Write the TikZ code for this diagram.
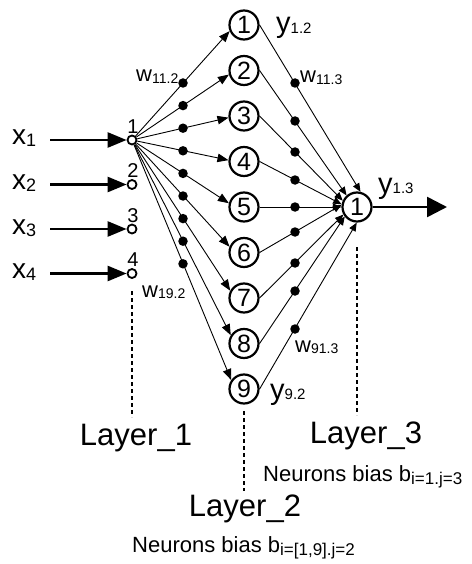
\documentclass[tikz,border=0pt]{standalone}
\usepackage{fontspec}
\setmainfont{Liberation Sans}
\usetikzlibrary{arrows.meta,calc}
\newcommand{\sublab}[5]{{\fontsize{#1}{#1}\selectfont #3}{\fontsize{#2}{#2}\selectfont\raisebox{-#5pt}{#4}}}
\begin{document}
\begin{tikzpicture}[x=1pt,y=-1pt,
  neuron/.style={circle,draw,line width=2.2pt,minimum size=29pt,inner sep=0pt,fill=white,font=\fontsize{25}{25}\selectfont},
  inp/.style={circle,draw,line width=1.8pt,minimum size=9pt,inner sep=0pt,fill=white},
  wdot/.style={circle,fill,inner sep=0pt,minimum size=9.5pt},
  conn/.style={line width=0.9pt,-{Triangle[length=11pt,width=8.5pt]}},
  conn2/.style={line width=0.9pt,-{Triangle[length=8.5pt,width=7pt]}},
  bigarrow/.style={line width=2.6pt,-{Triangle[length=19pt,width=15pt]}},
  outarrow/.style={line width=2.6pt,-{Triangle[length=20pt,width=20pt]}},
  layerline/.style={line width=2.4pt,dash pattern=on 4pt off 3pt},
  txt/.style={inner sep=0pt,anchor=base west},
  laytxt/.style={inner sep=0pt,anchor=base,font=\fontsize{31}{31}\selectfont},
  numlab/.style={inner sep=0pt,anchor=south,font=\fontsize{20}{20}\selectfont}
]
\useasboundingbox (0,0) rectangle (471,564);

% layer 2 neurons
\foreach \k in {1,...,9} {
  \node[neuron] (n\k) at (244,{25+45.5*(\k-1)}) {\k};
}
% output neuron
\node[neuron] (out) at (357,207) {1};

% inputs
\foreach \k/\y in {1/140,2/184.5,3/229,4/273.5} {
  \node[inp] (in\k) at (132,\y) {};
  \node[numlab] (lab\k) at ([yshift=1pt,xshift=1pt]in\k.north) {\k};
  \coordinate (s\k) at (50,\y);
  \draw[bigarrow] (s\k) -- (in\k);
  \node[txt] (xl\k) at (12,{\y+5}) {\sublab{28}{18}{x}{\k}{2}};
}

% layer 1 -> layer 2 (line from input 1 through weight dot to neuron)
\foreach \k/\a in {1/203.2,2/195.6,3/186.5,4/175.7,5/166.2,6/158.4,7/152.8,8/148.8,9/145.4} {
  \draw[conn] (in1) -- (n\k.\a);
  \node[wdot] (d\k) at (183,{83+22.6*(\k-1)}) {};
}

% layer 2 -> layer 3
\foreach \k/\a/\ye in {1/77.7/83,2/132/121,3/156.8/152,4/170.7/180,5/180/207,6/172.8/232,7/209.6/263,8/218.2/291,9/269.3/329} {
  \draw[conn2] (n\k.east) -- (out.\a);
  \node[wdot] (e\k) at (295,\ye) {};
}

% output arrow
\coordinate (oe) at (447,207);
\draw[outarrow] (out) -- (oe);

% layer dashed lines
\coordinate (l1a) at (132,291); \coordinate (l1b) at (132,417);
\draw[layerline] (l1a) -- (l1b);
\coordinate (l2a) at (244,411); \coordinate (l2b) at (244,491);
\draw[layerline] (l2a) -- (l2b);
\coordinate (l3a) at (357,247); \coordinate (l3b) at (357,415);
\draw[layerline] (l3a) -- (l3b);

% labels
\node[txt] (y12) at (276,33) {\sublab{29}{15}{y}{1.2}{0.5}};
\node[txt] (y92) at (270,399) {\sublab{29}{15}{y}{9.2}{0.5}};
\node[txt] (y13) at (378,193) {\sublab{29}{15}{y}{1.3}{0.5}};
\node[txt] (w112) at (136,82) {\sublab{22}{14}{w}{11.2}{1.5}};
\node[txt] (w113) at (300,83) {\sublab{22}{14}{w}{11.3}{1.5}};
\node[txt] (w192) at (142,297) {\sublab{22}{14}{w}{19.2}{1.5}};
\node[txt] (w913) at (295,352) {\sublab{22}{14}{w}{91.3}{1.5}};

\node[laytxt] (L1) at (136,445) {Layer\_1};
\node[laytxt] (L2) at (245,516) {Layer\_2};
\node[laytxt] (L3) at (366,443) {Layer\_3};
\node[txt] (b3) at (263,481) {\sublab{22}{17}{Neurons bias b}{i=1.j=3}{3}};
\node[txt] (b2) at (132,552) {\sublab{22}{17}{Neurons bias b}{i=[1,9].j=2}{3}};
\end{tikzpicture}
\end{document}
